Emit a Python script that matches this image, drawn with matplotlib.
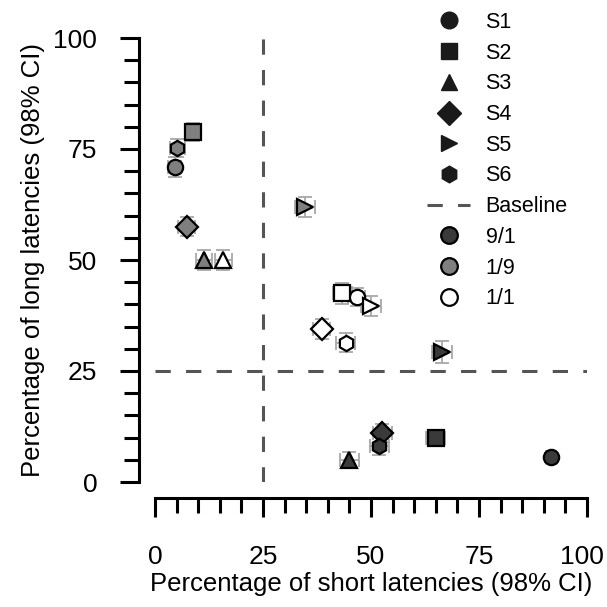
import numpy as np
import matplotlib
matplotlib.use("Agg")
import matplotlib.pyplot as plt
from matplotlib.lines import Line2D
from matplotlib.ticker import MultipleLocator, FuncFormatter

plt.rcParams["font.family"] = ["Liberation Sans", "DejaVu Sans"]

# data (percent short / percent long latencies)
subjects = ["S1", "S2", "S3", "S4", "S5", "S6"]
markers  = ["o", "s", "^", "D", ">", "h"]
conditions = ["9/1", "1/9", "1/1"]
cond_colors = ["#3a3a3a", "#7f7f7f", "white"]

short_91 = [91.6, 65.0, 45.0, 52.6, 66.4, 51.9]
long_91  = [5.6, 9.8, 5.0, 11.0, 29.3, 8.1]
short_19 = [4.6, 8.8, 11.3, 7.3, 34.7, 5.2]
long_19  = [70.9, 78.8, 50.0, 57.5, 61.9, 75.3]
short_11 = [46.7, 43.4, 15.8, 38.6, 49.9, 44.2]
long_11  = [41.6, 42.5, 50.0, 34.4, 39.6, 31.4]

xerr_91 = [1.0, 2.2, 2.2, 2.2, 2.3, 2.2]
yerr_91 = [1.0, 1.5, 1.8, 2.0, 2.4, 2.0]
xerr_19 = [1.5, 1.8, 1.8, 2.0, 2.3, 1.8]
yerr_19 = [2.2, 2.0, 2.3, 2.2, 2.3, 2.0]
xerr_11 = [2.0, 2.3, 2.0, 2.0, 2.3, 2.2]
yerr_11 = [2.0, 2.3, 2.3, 2.2, 2.3, 2.2]

baseline = 25
x_max = 100

short_all = [short_91, short_19, short_11]
long_all  = [long_91, long_19, long_11]
xerr_all  = [xerr_91, xerr_19, xerr_11]
yerr_all  = [yerr_91, yerr_19, yerr_11]

W = H = 607
fig = plt.figure(figsize=(W / 100, H / 100), dpi=100)
ax = fig.add_axes([155 / W, (H - 482) / H, 432 / W, 444 / H])

dash_col = "#555555"
ax.axhline(baseline, color=dash_col, lw=2.2, ls=(0, (5, 5)), zorder=1)
ax.axvline(baseline, color=dash_col, lw=2.2, ls=(0, (5, 5)), zorder=1)

for ci in range(len(conditions)):
    for si in range(len(subjects)):
        ax.errorbar(short_all[ci][si], long_all[ci][si],
                    xerr=xerr_all[ci][si], yerr=yerr_all[ci][si],
                    fmt="none", ecolor="#a8a8a8", elinewidth=1.3,
                    capsize=5, capthick=1.3, zorder=2, clip_on=False)
        ax.plot(short_all[ci][si], long_all[ci][si], marker=markers[si],
                ms=11, mfc=cond_colors[ci], mec="black", mew=1.6,
                ls="none", zorder=3, clip_on=False)

ax.set_xlim(0, x_max)
ax.set_ylim(0, 100)
for side in ["top", "right"]:
    ax.spines[side].set_visible(False)
for side in ["left", "bottom"]:
    ax.spines[side].set_position(("outward", 11.5))
    ax.spines[side].set_linewidth(2.2)
    ax.spines[side].set_bounds(0, 100)

ax.xaxis.set_major_locator(MultipleLocator(25))
ax.yaxis.set_major_locator(MultipleLocator(25))
ax.xaxis.set_minor_locator(MultipleLocator(5))
ax.yaxis.set_minor_locator(MultipleLocator(5))
tick_fs, x_pad = 19, 20
ax.tick_params(which="major", direction="out", length=14, width=2.2,
               labelsize=tick_fs)
ax.tick_params(axis="x", which="major", pad=x_pad)
ax.tick_params(axis="y", which="major", pad=16)
ax.tick_params(which="minor", direction="out", length=11, width=2.2)

# last x label is nudged left so it stays inside the figure, like the reference
ax.xaxis.set_major_formatter(FuncFormatter(lambda v, p: "" if v >= x_max else f"{v:g}"))
ax.annotate(f"{x_max}", xy=(x_max, 0), xycoords=("data", "axes fraction"),
            xytext=(-3.5, -(11.5 + 14 + x_pad)), textcoords="offset points",
            ha="center", va="top", fontsize=tick_fs)

ax.set_xlabel("Percentage of short latencies (98% CI)", fontsize=18.5, labelpad=2)
ax.set_ylabel("Percentage of long latencies (98% CI)", fontsize=18.5, labelpad=6)

handles = [Line2D([], [], marker=m, color="none", mfc="#1a1a1a", mec="#1a1a1a",
                  ms=12, ls="none") for m in markers]
handles.append(Line2D([], [], color=dash_col, lw=2.2, ls=(0, (5, 5))))
for c in cond_colors:
    handles.append(Line2D([], [], marker="o", color="none", mfc=c, mec="black",
                          mew=1.6, ms=12, ls="none"))
labels = subjects + ["Baseline"] + conditions

ax.legend(handles, labels, loc="upper left", frameon=False, fontsize=15.5,
          bbox_to_anchor=(427 / W, 1 - 12 / H), bbox_transform=fig.transFigure,
          borderpad=0, borderaxespad=0, handlelength=2.0,
          handletextpad=0.72, labelspacing=0.45)

fig.savefig("out.png", dpi=100)
